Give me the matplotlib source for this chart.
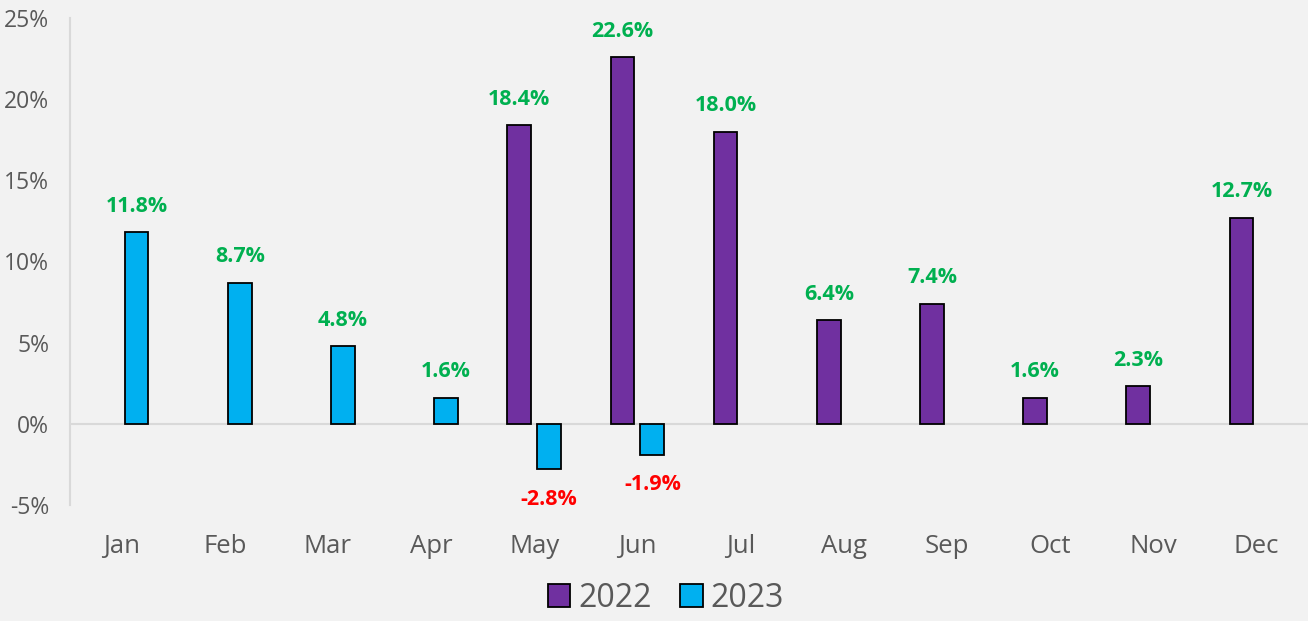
import numpy as np
import matplotlib
matplotlib.use("Agg")
import matplotlib.pyplot as plt
from matplotlib.patches import Patch

meses = ["Jan", "Feb", "Mar", "Apr", "May", "Jun", "Jul", "Aug", "Sep", "Oct", "Nov", "Dec"]
valores_2022 = [None, None, None, None, 18.4, 22.6, 18.0, 6.4, 7.4, 1.6, 2.3, 12.7]
valores_2023 = [11.8, 8.7, 4.8, 1.6, -2.8, -1.9, None, None, None, None, None, None]
ticks_y = [-5, 0, 5, 10, 15, 20, 25]

color_2022 = "#7030a0"
color_2023 = "#00b0f0"
fondo = "#f2f2f2"
gris = "#595959"

plt.rcParams["font.family"] = ["Open Sans", "DejaVu Sans"]

fig = plt.figure(figsize=(13.08, 6.21), dpi=100, facecolor=fondo)
ax = fig.add_axes([0.0535, 0.187, 0.9465, 0.784], facecolor=fondo)

x = np.arange(len(meses))
ancho = 0.23
desplaz = 0.145


def dibujar(valores, dx, color):
    for i, v in enumerate(valores):
        if v is None:
            continue
        ax.bar(x[i] + dx, v, width=ancho, color=color, edgecolor="black",
               linewidth=1.3, zorder=3)
        if v >= 0:
            ax.annotate(f"{v:.1f}%", (x[i] + dx, v), xytext=(0, 11),
                        textcoords="offset points", ha="center", va="bottom",
                        color="#00b050", fontsize=15.5, fontweight="bold")
        else:
            ax.annotate(f"{v:.1f}%", (x[i] + dx, v), xytext=(0, -14),
                        textcoords="offset points", ha="center", va="top",
                        color="#ff0000", fontsize=15.5, fontweight="bold")


dibujar(valores_2022, -desplaz, color_2022)
dibujar(valores_2023, desplaz, color_2023)

ax.axhline(0, color="#d9d9d9", linewidth=1.5, zorder=2)
ax.set_xlim(-0.5, len(meses) - 0.5)
ax.set_ylim(-5, 25)
ax.set_yticks(ticks_y)
ax.set_yticklabels([f"{t}%" for t in ticks_y])
ax.set_xticks(x)
ax.set_xticklabels(meses)

for lado in ["top", "right", "bottom"]:
    ax.spines[lado].set_visible(False)
ax.spines["left"].set_color("#d9d9d9")
ax.spines["left"].set_linewidth(1.5)

ax.tick_params(axis="y", length=0, labelsize=16.5, colors=gris, pad=15)
ax.tick_params(axis="x", length=0, labelsize=18.5, colors=gris, pad=21)

leyenda = [Patch(facecolor=color_2022, edgecolor="black", linewidth=1.3, label="2022"),
           Patch(facecolor=color_2023, edgecolor="black", linewidth=1.3, label="2023")]
fig.legend(handles=leyenda, loc="lower center", bbox_to_anchor=(0.509, -0.036),
           ncol=2, frameon=False, fontsize=23, labelcolor=gris,
           handlelength=0.7, handleheight=0.7, handletextpad=0.25, columnspacing=0.9)

fig.savefig("out.png", dpi=100, facecolor=fondo)
